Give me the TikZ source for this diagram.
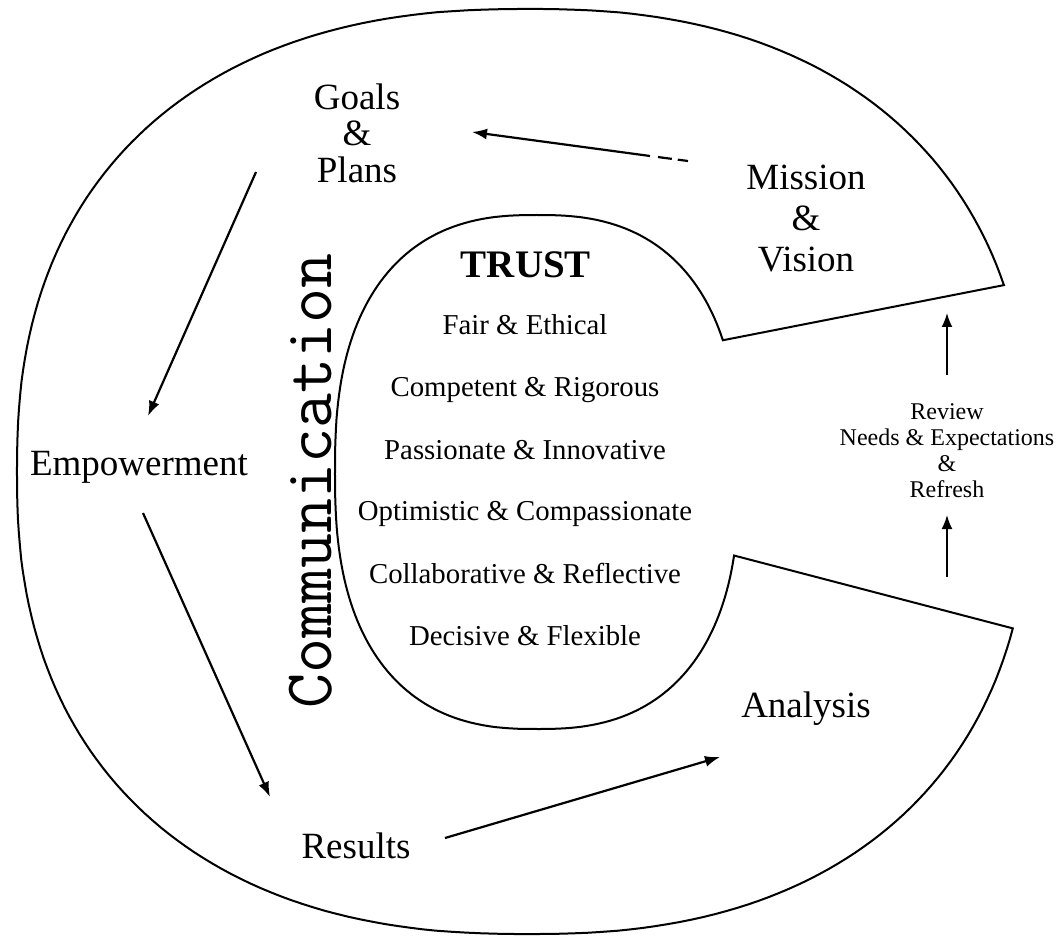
\documentclass[tikz,border=0pt]{standalone}
\usepackage{fontspec}
\setmainfont{Liberation Serif}
\usetikzlibrary{arrows.meta}

\tikzset{
  stage/.style={inner sep=0pt, align=center, font=\fontsize{18.5}{18.25}\selectfont},
  trait/.style={inner sep=0pt, anchor=base, font=\fontsize{14.4}{16}\selectfont},
  flow/.style={line width=1.1pt, -{Latex[length=7.5pt,width=5.5pt]}},
  refresh/.style={line width=0.9pt, -{Latex[length=7pt,width=5.5pt]}},
}

\begin{document}
\begin{tikzpicture}[x=0.5pt, y=-0.5pt]
  \useasboundingbox (0,0) rectangle (1056,936);

  % the big C: outer rim, lower cut, inner rim, upper cut
  \draw[line width=1pt]
    plot[domain=20.1:343.7, samples=240, variable=\t]
      ({528+ifthenelse(cos(\t)<0,511,502)*sign(cos(\t))*pow(abs(cos(\t))+0.00001,0.851)},
       {471.5-462.5*sign(sin(\t))*pow(abs(sin(\t))+0.00001,0.851)})
    -- plot[domain=14.2:334.3, samples=200, variable=\t]
      ({537+202*sign(cos(\t))*pow(abs(cos(\t))+0.00001,0.8)},
       {472+257*sign(sin(\t))*pow(abs(sin(\t))+0.00001,0.8)})
    -- cycle;

  % stages of the cycle
  \node[stage] (goals) at (357,133) {Goals\\\&\\Plans};
  \node[stage, font=\fontsize{18.5}{20.5}\selectfont] (mission) at (806,219) {Mission\\\&\\Vision};
  \node[stage, anchor=base] (empower) at (139,475) {Empowerment};
  \node[stage, anchor=base] (results) at (356,858) {Results};
  \node[stage, anchor=base] (analysis) at (806,717) {Analysis};

  % inside the C
  \node[inner sep=0pt, anchor=base, font=\fontsize{19.5}{20}\bfseries\selectfont] (trust) at (526,278) {TRUST};
  \foreach \txt [count=\i from 0] in {Fair \& Ethical, Competent \& Rigorous,
      Passionate \& Innovative, Optimistic \& Compassionate,
      Collaborative \& Reflective, Decisive \& Flexible}
    \node[trait] (trait-\i) at (525,335+62*\i) {\txt};

  \node[rotate=90, anchor=base, inner sep=0pt, font=\ttfamily\fontsize{34}{34}\selectfont]
    (comm) at (331,481) {Communication};

  % review in the gap
  \node[inner sep=0pt, align=center, font=\fontsize{12}{13}\selectfont] (review) at (947,451)
    {Review\\Needs \& Expectations\\\&\\Refresh};

  % arrow ends
  \coordinate (gp-in) at (472,132);
  \coordinate (mv-solid) at (650,156);
  \coordinate (mv-out) at (688,161);
  \coordinate (gp-out) at (256,172);
  \coordinate (em-in) at (148,416);
  \coordinate (em-out) at (143,513);
  \coordinate (rs-in) at (270,797);
  \coordinate (rs-out) at (445,838);
  \coordinate (an-in) at (720,757);
  \coordinate (rv-low-out) at (947,577);
  \coordinate (rv-low-in) at (947,515);
  \coordinate (rv-up-out) at (947,375);
  \coordinate (rv-up-in) at (947,313);

  % arrows
  \draw[line width=1.1pt, dash pattern=on 0pt off 4pt on 7pt off 3pt on 5pt] (mv-solid) -- (mv-out);
  \draw[flow] (mv-solid) -- (gp-in);
  \draw[flow] (gp-out) -- (em-in);
  \draw[flow] (em-out) -- (rs-in);
  \draw[flow] (rs-out) -- (an-in);
  \draw[refresh] (rv-low-out) -- (rv-low-in);
  \draw[refresh] (rv-up-out) -- (rv-up-in);
\end{tikzpicture}
\end{document}
